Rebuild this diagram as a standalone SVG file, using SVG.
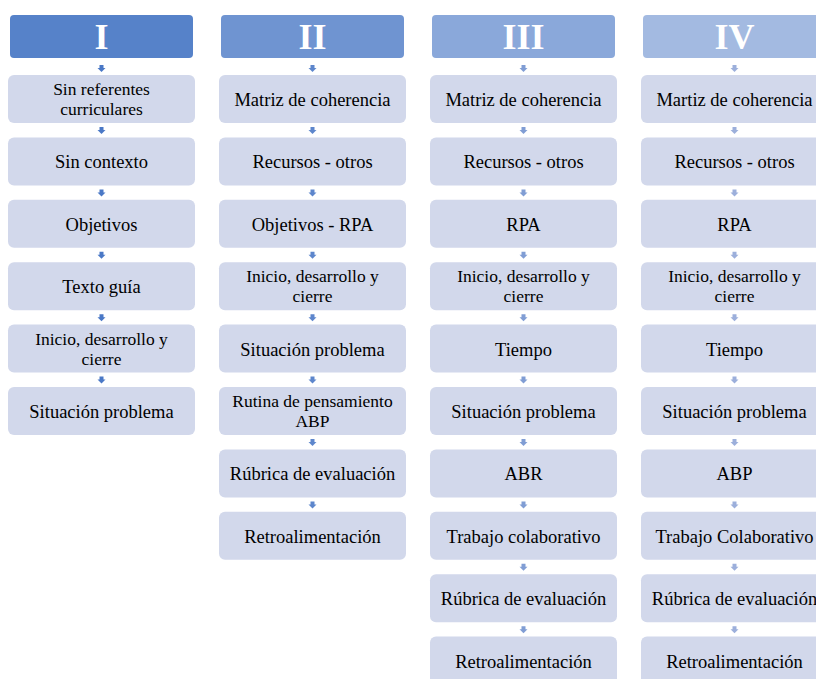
<svg xmlns="http://www.w3.org/2000/svg" width="816" height="679" viewBox="0 0 816 679">
<style>
.box{fill:#D2D8EB}
.t{font-family:"Liberation Serif","Times New Roman",serif;font-size:18.5px;fill:#000;text-anchor:middle}
.t2{font-family:"Liberation Serif","Times New Roman",serif;font-size:17.5px;fill:#000;text-anchor:middle}
.h{font-family:"Liberation Serif","Times New Roman",serif;font-size:36px;font-weight:bold;fill:#fff;text-anchor:middle}
</style>
<defs>
<polygon id="arr" points="-2,0 2,0 2,3 4,3 0,7 -4,3 -2,3"/>
</defs>
<rect width="816" height="679" fill="#fff"/>

<g id="connectors">
  <g fill="#4A78C6">
    <use href="#arr" x="101.5" y="65"/>
    <use href="#arr" x="101.5" y="127"/>
    <use href="#arr" x="101.5" y="189.4"/>
    <use href="#arr" x="101.5" y="251.8"/>
    <use href="#arr" x="101.5" y="314.2"/>
    <use href="#arr" x="101.5" y="376.6"/>
  </g>
  <g fill="#5D86CC">
    <use href="#arr" x="312.5" y="65"/>
    <use href="#arr" x="312.5" y="127"/>
    <use href="#arr" x="312.5" y="189.4"/>
    <use href="#arr" x="312.5" y="251.8"/>
    <use href="#arr" x="312.5" y="314.2"/>
    <use href="#arr" x="312.5" y="376.6"/>
    <use href="#arr" x="312.5" y="439"/>
    <use href="#arr" x="312.5" y="501.4"/>
  </g>
  <g fill="#809DD4">
    <use href="#arr" x="523.5" y="65"/>
    <use href="#arr" x="523.5" y="127"/>
    <use href="#arr" x="523.5" y="189.4"/>
    <use href="#arr" x="523.5" y="251.8"/>
    <use href="#arr" x="523.5" y="314.2"/>
    <use href="#arr" x="523.5" y="376.6"/>
    <use href="#arr" x="523.5" y="439"/>
    <use href="#arr" x="523.5" y="501.4"/>
    <use href="#arr" x="523.5" y="563.8"/>
    <use href="#arr" x="523.5" y="626.2"/>
  </g>
  <g fill="#9CAFDB">
    <use href="#arr" x="734.5" y="65"/>
    <use href="#arr" x="734.5" y="127"/>
    <use href="#arr" x="734.5" y="189.4"/>
    <use href="#arr" x="734.5" y="251.8"/>
    <use href="#arr" x="734.5" y="314.2"/>
    <use href="#arr" x="734.5" y="376.6"/>
    <use href="#arr" x="734.5" y="439"/>
    <use href="#arr" x="734.5" y="501.4"/>
    <use href="#arr" x="734.5" y="563.8"/>
    <use href="#arr" x="734.5" y="626.2"/>
  </g>
</g>

<!-- Column I -->
<g id="h1"><rect x="10" y="15" width="183" height="43" rx="4" fill="#5682C9"/><text class="h" x="101.5" y="49">I</text></g>
<g id="c1r1"><rect class="box" x="8" y="75" width="187" height="48" rx="6"/><text class="t2" x="101.5" y="95">Sin referentes<tspan x="101.5" dy="20.2">curriculares</tspan></text></g>
<g id="c1r2"><rect class="box" x="8" y="137.4" width="187" height="48" rx="6"/><text class="t" x="101.5" y="168.4">Sin contexto</text></g>
<g id="c1r3"><rect class="box" x="8" y="199.8" width="187" height="48" rx="6"/><text class="t" x="101.5" y="230.8">Objetivos</text></g>
<g id="c1r4"><rect class="box" x="8" y="262.2" width="187" height="48" rx="6"/><text class="t" x="101.5" y="293.2">Texto guía</text></g>
<g id="c1r5"><rect class="box" x="8" y="324.6" width="187" height="48" rx="6"/><text class="t2" x="101.5" y="344.6">Inicio, desarrollo y<tspan x="101.5" dy="20.2">cierre</tspan></text></g>
<g id="c1r6"><rect class="box" x="8" y="387" width="187" height="48" rx="6"/><text class="t" x="101.5" y="418">Situación problema</text></g>

<!-- Column II -->
<g id="h2"><rect x="221" y="15" width="183" height="43" rx="4" fill="#6F94D1"/><text class="h" x="312.5" y="49">II</text></g>
<g id="c2r1"><rect class="box" x="219" y="75" width="187" height="48" rx="6"/><text class="t" x="312.5" y="106">Matriz de coherencia</text></g>
<g id="c2r2"><rect class="box" x="219" y="137.4" width="187" height="48" rx="6"/><text class="t" x="312.5" y="168.4">Recursos - otros</text></g>
<g id="c2r3"><rect class="box" x="219" y="199.8" width="187" height="48" rx="6"/><text class="t" x="312.5" y="230.8">Objetivos - RPA</text></g>
<g id="c2r4"><rect class="box" x="219" y="262.2" width="187" height="48" rx="6"/><text class="t2" x="312.5" y="282.2">Inicio, desarrollo y<tspan x="312.5" dy="20.2">cierre</tspan></text></g>
<g id="c2r5"><rect class="box" x="219" y="324.6" width="187" height="48" rx="6"/><text class="t" x="312.5" y="355.6">Situación problema</text></g>
<g id="c2r6"><rect class="box" x="219" y="387" width="187" height="48" rx="6"/><text class="t2" x="312.5" y="407">Rutina de pensamiento<tspan x="312.5" dy="20.2">ABP</tspan></text></g>
<g id="c2r7"><rect class="box" x="219" y="449.4" width="187" height="48" rx="6"/><text class="t" x="312.5" y="480.4">Rúbrica de evaluación</text></g>
<g id="c2r8"><rect class="box" x="219" y="511.8" width="187" height="48" rx="6"/><text class="t" x="312.5" y="542.8">Retroalimentación</text></g>

<!-- Column III -->
<g id="h3"><rect x="432" y="15" width="183" height="43" rx="4" fill="#8AA8DA"/><text class="h" x="523.5" y="49">III</text></g>
<g id="c3r1"><rect class="box" x="430" y="75" width="187" height="48" rx="6"/><text class="t" x="523.5" y="106">Matriz de coherencia</text></g>
<g id="c3r2"><rect class="box" x="430" y="137.4" width="187" height="48" rx="6"/><text class="t" x="523.5" y="168.4">Recursos - otros</text></g>
<g id="c3r3"><rect class="box" x="430" y="199.8" width="187" height="48" rx="6"/><text class="t" x="523.5" y="230.8">RPA</text></g>
<g id="c3r4"><rect class="box" x="430" y="262.2" width="187" height="48" rx="6"/><text class="t2" x="523.5" y="282.2">Inicio, desarrollo y<tspan x="523.5" dy="20.2">cierre</tspan></text></g>
<g id="c3r5"><rect class="box" x="430" y="324.6" width="187" height="48" rx="6"/><text class="t" x="523.5" y="355.6">Tiempo</text></g>
<g id="c3r6"><rect class="box" x="430" y="387" width="187" height="48" rx="6"/><text class="t" x="523.5" y="418">Situación problema</text></g>
<g id="c3r7"><rect class="box" x="430" y="449.4" width="187" height="48" rx="6"/><text class="t" x="523.5" y="480.4">ABR</text></g>
<g id="c3r8"><rect class="box" x="430" y="511.8" width="187" height="48" rx="6"/><text class="t" x="523.5" y="542.8">Trabajo colaborativo</text></g>
<g id="c3r9"><rect class="box" x="430" y="574.2" width="187" height="48" rx="6"/><text class="t" x="523.5" y="605.2">Rúbrica de evaluación</text></g>
<g id="c3r10"><rect class="box" x="430" y="636.6" width="187" height="48" rx="6"/><text class="t" x="523.5" y="667.6">Retroalimentación</text></g>

<!-- Column IV -->
<g id="h4"><rect x="643" y="15" width="183" height="43" rx="4" fill="#A3BAE1"/><text class="h" x="734.5" y="49">IV</text></g>
<g id="c4r1"><rect class="box" x="641" y="75" width="187" height="48" rx="6"/><text class="t" x="734.5" y="106">Martiz de coherencia</text></g>
<g id="c4r2"><rect class="box" x="641" y="137.4" width="187" height="48" rx="6"/><text class="t" x="734.5" y="168.4">Recursos - otros</text></g>
<g id="c4r3"><rect class="box" x="641" y="199.8" width="187" height="48" rx="6"/><text class="t" x="734.5" y="230.8">RPA</text></g>
<g id="c4r4"><rect class="box" x="641" y="262.2" width="187" height="48" rx="6"/><text class="t2" x="734.5" y="282.2">Inicio, desarrollo y<tspan x="734.5" dy="20.2">cierre</tspan></text></g>
<g id="c4r5"><rect class="box" x="641" y="324.6" width="187" height="48" rx="6"/><text class="t" x="734.5" y="355.6">Tiempo</text></g>
<g id="c4r6"><rect class="box" x="641" y="387" width="187" height="48" rx="6"/><text class="t" x="734.5" y="418">Situación problema</text></g>
<g id="c4r7"><rect class="box" x="641" y="449.4" width="187" height="48" rx="6"/><text class="t" x="734.5" y="480.4">ABP</text></g>
<g id="c4r8"><rect class="box" x="641" y="511.8" width="187" height="48" rx="6"/><text class="t" x="734.5" y="542.8">Trabajo Colaborativo</text></g>
<g id="c4r9"><rect class="box" x="641" y="574.2" width="187" height="48" rx="6"/><text class="t" x="734.5" y="605.2">Rúbrica de evaluación</text></g>
<g id="c4r10"><rect class="box" x="641" y="636.6" width="187" height="48" rx="6"/><text class="t" x="734.5" y="667.6">Retroalimentación</text></g>
</svg>
